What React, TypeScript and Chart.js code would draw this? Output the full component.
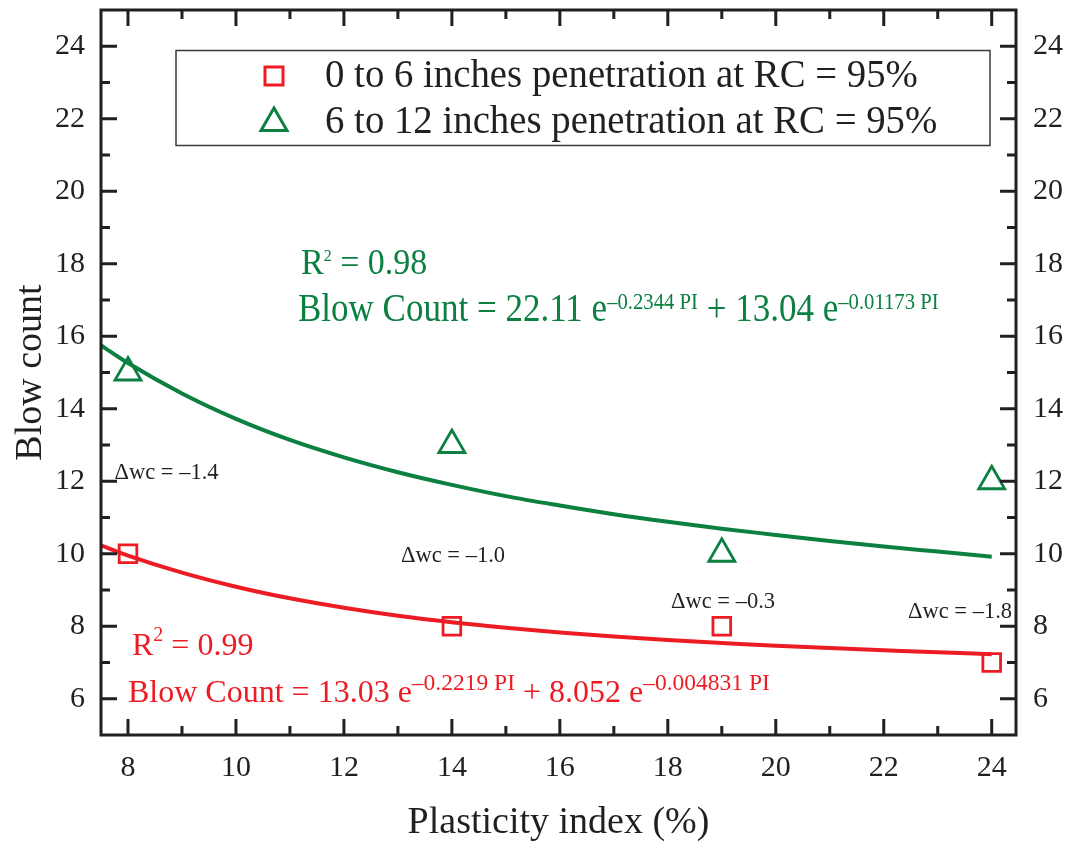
import React, { useEffect, useRef } from 'react';
import { Chart, registerables } from 'chart.js';

Chart.register(...registerables);

// ---- data ----
const piValues = [8, 14, 19, 24];
const blowCount0to6 = [10, 8, 8, 7];
const blowCount6to12 = [15, 13, 10, 12];

const fitPI = [7.5, 8, 9, 10, 11, 12, 13, 14, 15, 16, 17, 18, 19, 20, 21, 22, 23, 24];
const fit0to6 = [10.23, 9.95, 9.48, 9.09, 8.77, 8.51, 8.29, 8.11, 7.96, 7.83, 7.72, 7.62, 7.54, 7.46, 7.4, 7.34, 7.28, 7.23];
const fit6to12 = [15.75, 15.26, 14.42, 13.72, 13.14, 12.66, 12.25, 11.9, 11.59, 11.33, 11.09, 10.88, 10.69, 10.52, 10.35, 10.2, 10.06, 9.92];

const xTickValues = [8, 10, 12, 14, 16, 18, 20, 22, 24];
const xMinorTickValues = [9, 11, 13, 15, 17, 19, 21, 23];
const yTickValues = [6, 8, 10, 12, 14, 16, 18, 20, 22, 24];
const yMinorTickValues = [7, 9, 11, 13, 15, 17, 19, 21, 23];

const seriesLabels = [
  '0 to 6 inches penetration at RC = 95%',
  '6 to 12 inches penetration at RC = 95%',
];
const dwcLabels = ['Δwc = –1.4', 'Δwc = –1.0', 'Δwc = –0.3', 'Δwc = –1.8'];
const xTitle = 'Plasticity index (%)';
const yTitle = 'Blow count';

// ---- style ----
const RED = '#ED1C24';
const GREEN = '#0B8040';
const INK = '#231F20';
const FONT = '"Liberation Serif", "Times New Roman", serif';

type Run = { t: string; size: number; dy?: number; sy?: number };

function drawRuns(ctx: CanvasRenderingContext2D, x: number, y: number, runs: Run[], color: string) {
  let cx = x;
  for (const r of runs) {
    ctx.font = `${r.size}px ${FONT}`;
    const w = ctx.measureText(r.t).width;
    ctx.save();
    ctx.translate(cx, y + (r.dy || 0));
    ctx.scale(1, r.sy || 1);
    ctx.fillStyle = color;
    ctx.textAlign = 'left';
    ctx.textBaseline = 'alphabetic';
    ctx.fillText(r.t, 0, 0);
    ctx.restore();
    cx += w;
  }
}

const decorPlugin = {
  id: 'decor',
  afterDraw(chart: any) {
    const ctx: CanvasRenderingContext2D = chart.ctx;
    const { left, right, top, bottom } = chart.chartArea;
    const xs = chart.scales.x;
    const ys = chart.scales.y;
    ctx.save();
    // frame
    ctx.strokeStyle = INK;
    ctx.lineWidth = 3;
    ctx.strokeRect(left, top, right - left, bottom - top);
    // inward ticks
    const major = 16;
    const minor = 9;
    ctx.beginPath();
    const xt = (v: number, len: number) => {
      const p = xs.getPixelForValue(v);
      ctx.moveTo(p, bottom);
      ctx.lineTo(p, bottom - len);
      ctx.moveTo(p, top);
      ctx.lineTo(p, top + len);
    };
    const yt = (v: number, len: number) => {
      const p = ys.getPixelForValue(v);
      ctx.moveTo(left, p);
      ctx.lineTo(left + len, p);
      ctx.moveTo(right, p);
      ctx.lineTo(right - len, p);
    };
    xTickValues.forEach((v) => xt(v, major));
    xMinorTickValues.forEach((v) => xt(v, minor));
    yTickValues.forEach((v) => yt(v, major));
    yMinorTickValues.forEach((v) => yt(v, minor));
    ctx.stroke();

    // legend
    ctx.lineWidth = 1.5;
    ctx.strokeStyle = '#3a3a3a';
    ctx.strokeRect(176, 50.5, 814, 95);
    ctx.lineWidth = 3;
    ctx.strokeStyle = RED;
    ctx.strokeRect(274 - 9, 76 - 9, 18, 18);
    ctx.strokeStyle = GREEN;
    const r = 15;
    const cx = 274;
    const cy = 123;
    ctx.beginPath();
    ctx.moveTo(cx, cy - r);
    ctx.lineTo(cx + r * Math.sin((2 * Math.PI) / 3), cy - r * Math.cos((2 * Math.PI) / 3));
    ctx.lineTo(cx + r * Math.sin((4 * Math.PI) / 3), cy - r * Math.cos((4 * Math.PI) / 3));
    ctx.closePath();
    ctx.stroke();
    drawRuns(ctx, 325, 87, [{ t: seriesLabels[0], size: 38.8, sy: 1.05 }], INK);
    drawRuns(ctx, 325, 133, [{ t: seriesLabels[1], size: 38.8, sy: 1.05 }], INK);

    // Δwc annotations
    ctx.font = `22.5px ${FONT}`;
    ctx.textAlign = 'center';
    ctx.textBaseline = 'alphabetic';
    ctx.fillStyle = INK;
    const dwcPos = [
      [166.5, 479],
      [453, 562],
      [723, 608],
      [960, 618],
    ];
    dwcLabels.forEach((t, i) => ctx.fillText(t, dwcPos[i][0], dwcPos[i][1]));

    // fit equations
    drawRuns(ctx, 301, 274, [
      { t: 'R', size: 34, sy: 1.05 },
      { t: '2', size: 16, dy: -13 },
      { t: ' = 0.98', size: 34, sy: 1.05 },
    ], GREEN);
    drawRuns(ctx, 298, 321, [
      { t: 'Blow Count = 22.11 e', size: 35, sy: 1.12 },
      { t: '–0.2344 PI', size: 20.7, dy: -12, sy: 1.16 },
      { t: ' + 13.04 e', size: 35, sy: 1.12 },
      { t: '–0.01173 PI', size: 20.7, dy: -12, sy: 1.16 },
    ], GREEN);
    drawRuns(ctx, 132, 655, [
      { t: 'R', size: 32 },
      { t: '2', size: 20, dy: -14 },
      { t: ' = 0.99', size: 32 },
    ], RED);
    drawRuns(ctx, 128, 701.5, [
      { t: 'Blow Count = 13.03 e', size: 32 },
      { t: '–0.2219 PI', size: 23.5, dy: -12 },
      { t: ' + 8.052 e', size: 32 },
      { t: '–0.004831 PI', size: 23.5, dy: -12 },
    ], RED);
    ctx.restore();
  },
};

export default function App() {
  const ref = useRef<HTMLCanvasElement>(null);
  useEffect(() => {
    const canvas = ref.current;
    if (!canvas) return;
    const tickFont = { family: FONT, size: 30 };
    const titleFont = { family: FONT, size: 38 };
    const noPad = (s: any) => {
      s.paddingTop = 0;
      s.paddingBottom = 0;
      s.paddingLeft = 0;
      s.paddingRight = 0;
    };
    const chart = new Chart(canvas, {
      type: 'scatter',
      data: {
        datasets: [
          {
            type: 'line',
            label: 'fit 0-6',
            data: fitPI.map((x, i) => ({ x, y: fit0to6[i] })),
            borderColor: RED,
            borderWidth: 4,
            pointRadius: 0,
            cubicInterpolationMode: 'monotone',
            fill: false,
            order: 3,
          },
          {
            type: 'line',
            label: 'fit 6-12',
            data: fitPI.map((x, i) => ({ x, y: fit6to12[i] })),
            borderColor: GREEN,
            borderWidth: 4,
            pointRadius: 0,
            cubicInterpolationMode: 'monotone',
            fill: false,
            order: 3,
          },
          {
            label: seriesLabels[0],
            data: piValues.map((x, i) => ({ x, y: blowCount0to6[i] })),
            pointStyle: 'rect',
            pointRadius: 12.5,
            borderColor: RED,
            borderWidth: 2.8,
            backgroundColor: 'rgba(0,0,0,0)',
            order: 1,
          },
          {
            label: seriesLabels[1],
            data: piValues.map((x, i) => ({ x, y: blowCount6to12[i] })),
            pointStyle: 'triangle',
            pointRadius: 15,
            borderColor: GREEN,
            borderWidth: 2.8,
            backgroundColor: 'rgba(0,0,0,0)',
            order: 1,
          },
        ],
      } as any,
      options: {
        responsive: false,
        animation: false,
        devicePixelRatio: 1,
        layout: { autoPadding: false, padding: { top: 10, left: 0, right: 0, bottom: 0 } },
        plugins: { legend: { display: false }, tooltip: { enabled: false } },
        scales: {
          x: {
            type: 'linear',
            position: 'bottom',
            min: 7.5,
            max: 24.45,
            afterBuildTicks: (s: any) => {
              s.ticks = xTickValues.map((v) => ({ value: v }));
            },
            afterFit: (s: any) => {
              s.height = 111;
              noPad(s);
            },
            grid: { display: false, drawTicks: false },
            border: { display: false },
            ticks: { font: tickFont, color: INK, padding: 15, maxRotation: 0, autoSkip: false },
            title: { display: true, text: xTitle, font: titleFont, color: INK, padding: 0 },
          },
          y: {
            type: 'linear',
            position: 'left',
            min: 5,
            max: 25,
            afterBuildTicks: (s: any) => {
              s.ticks = yTickValues.map((v) => ({ value: v }));
            },
            afterFit: (s: any) => {
              s.width = 101;
              noPad(s);
            },
            grid: { display: false, drawTicks: false },
            border: { display: false },
            ticks: { font: tickFont, color: INK, padding: 16, autoSkip: false },
            title: { display: true, text: yTitle, font: titleFont, color: INK, padding: { top: 8, bottom: 0 } },
          },
          y2: {
            type: 'linear',
            position: 'right',
            min: 5,
            max: 25,
            afterBuildTicks: (s: any) => {
              s.ticks = yTickValues.map((v) => ({ value: v }));
            },
            afterFit: (s: any) => {
              s.width = 52;
              noPad(s);
            },
            grid: { display: false, drawTicks: false },
            border: { display: false },
            ticks: { font: tickFont, color: INK, padding: 17, autoSkip: false },
          },
        },
      } as any,
      plugins: [decorPlugin],
    });
    return () => chart.destroy();
  }, []);
  return (
    <div style={{ position: 'absolute', left: 0, top: 0, width: 1068, height: 846, background: '#fff' }}>
      <canvas ref={ref} width={1068} height={846} style={{ display: 'block', width: 1068, height: 846 }} />
    </div>
  );
}
